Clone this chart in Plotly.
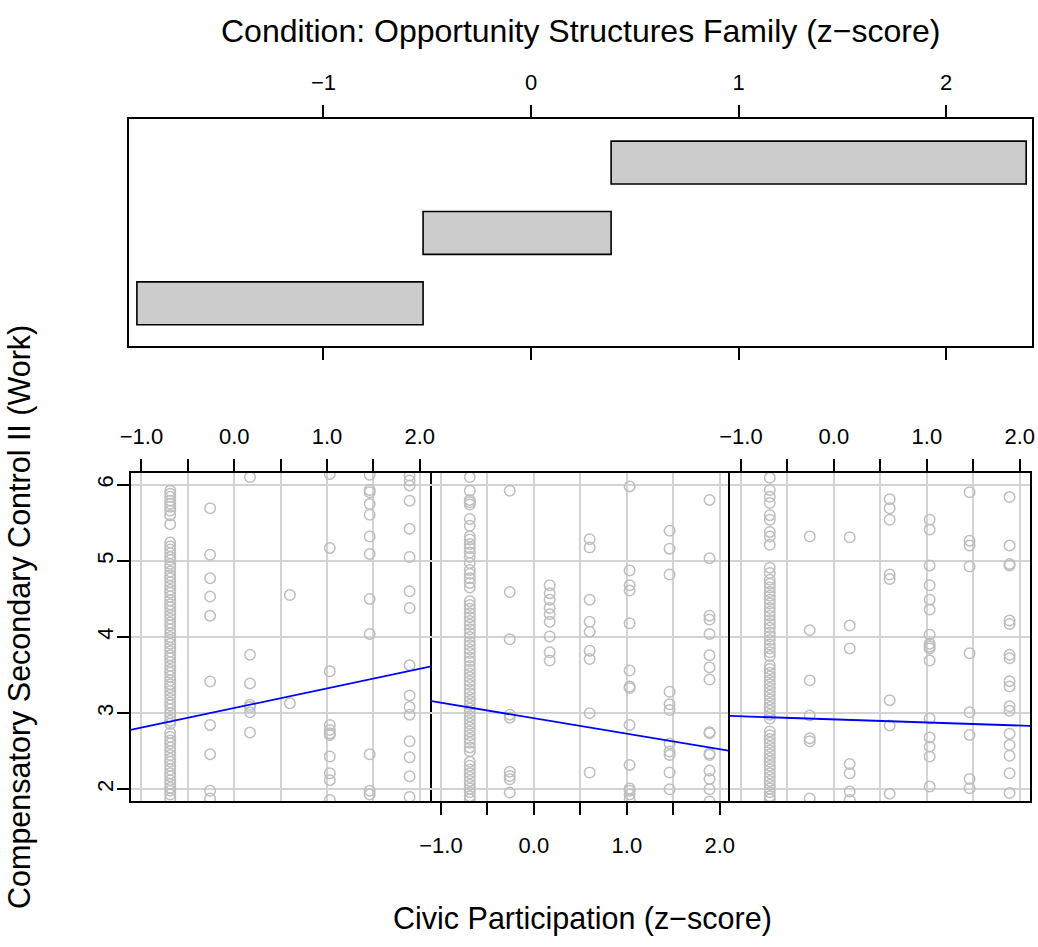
import plotly.graph_objects as go

W, H = 1038, 947

# Conditioning intervals of Opportunity Structures Family (z-score)
given_lo = [-1.899, -0.52, 0.386]
given_hi = [-0.52, 0.386, 2.386]
given_row = [1, 2, 3]

# Civic Participation levels (z-score), shared by every panel
civic_levels = [-0.69, -0.26, 0.17, 0.60, 1.03, 1.46, 1.89]

# Compensatory Secondary Control II (Work), one list per civic level
panel1_y = [
    [5.92, 5.88, 5.84, 5.79, 5.75, 5.71, 5.66, 5.60, 5.48,
     5.24, 5.19, 5.15, 5.10, 5.05, 5.01, 4.96, 4.92, 4.86, 4.81, 4.77, 4.72,
     4.67, 4.62, 4.58, 4.53, 4.48, 4.43, 4.39, 4.34, 4.29, 4.24, 4.19, 4.15,
     4.10, 4.05, 4.00, 3.96, 3.91, 3.86, 3.81, 3.76, 3.72, 3.67, 3.62, 3.57,
     3.53, 3.48, 3.43, 3.38, 3.34, 3.29, 3.24, 3.19, 3.14, 3.10, 3.05, 3.00,
     2.95, 2.90, 2.86, 2.74, 2.69, 2.64, 2.60, 2.55, 2.50, 2.45, 2.40, 2.36,
     2.31, 2.26, 2.21, 2.17, 2.12, 2.07, 2.02, 1.98, 1.93, 1.88],
    [5.69, 5.08, 4.77, 4.53, 4.28, 3.415, 2.845, 2.46, 1.98, 1.88],
    [6.10, 3.765, 3.39, 3.11, 3.08, 3.01, 2.745],
    [4.55, 3.13],
    [6.14, 5.17, 3.55, 2.845, 2.78, 2.736, 2.714, 2.43, 2.21, 2.12, 1.86],
    [6.13, 5.93, 5.90, 5.745, 5.605, 5.32, 5.09, 4.50, 4.04, 2.46, 1.98, 1.93],
    [6.12, 6.056, 5.99, 5.79, 5.42, 5.05, 4.60, 4.38, 3.63, 3.23, 3.08, 2.98,
     2.63, 2.42, 2.17, 1.90],
]

panel2_y = [
    [6.10, 5.92, 5.80, 5.77, 5.74, 5.55, 5.46, 5.32, 5.28, 5.22, 5.17, 5.11,
     5.05, 4.97, 4.88, 4.83, 4.77, 4.71, 4.65, 4.47, 4.42, 4.37, 4.31, 4.26,
     4.21, 4.16, 4.10, 4.05, 4.00, 3.94, 3.89, 3.84, 3.79, 3.73, 3.68, 3.62,
     3.57, 3.52, 3.47, 3.42, 3.37, 3.31, 3.26, 3.21, 3.16, 3.11, 3.06, 3.01,
     2.96, 2.91, 2.86, 2.81, 2.76, 2.71, 2.66, 2.61, 2.55, 2.50, 2.36, 2.31,
     2.26, 2.21, 2.16, 2.11, 2.06, 2.01, 1.96, 1.91, 1.87],
    [5.92, 4.59, 3.97, 2.98, 2.94, 2.23, 2.175, 2.13, 1.956],
    [4.68, 4.575, 4.49, 4.38, 4.30, 4.20, 4.006, 3.80, 3.69],
    [5.285, 5.175, 4.49, 4.20, 4.07, 3.82, 3.71, 3.00, 2.22],
    [5.977, 4.873, 4.68, 4.61, 4.18, 3.56, 3.35, 3.33, 2.845, 2.32, 2.01,
     1.98, 1.93, 1.87],
    [5.395, 5.16, 4.82, 3.28, 3.117, 3.04, 2.60, 2.495, 2.45, 2.22, 2.00],
    [5.80, 5.035, 4.28, 4.23, 4.04, 3.76, 3.60, 3.44, 2.75, 2.736, 2.47,
     2.45, 2.245, 2.136, 2.00, 1.84],
]

panel3_y = [
    [6.09, 5.93, 5.84, 5.76, 5.60, 5.54, 5.38, 5.32, 5.21,
     4.91, 4.84, 4.75, 4.70, 4.65, 4.59, 4.54, 4.49, 4.44, 4.38, 4.33, 4.28,
     4.22, 4.17, 4.12, 4.06, 4.01, 3.96, 3.90, 3.85, 3.80, 3.75,
     3.63, 3.58, 3.53, 3.48, 3.43, 3.38, 3.33, 3.28, 3.23, 3.18, 3.13, 3.08,
     3.03, 2.98, 2.93, 2.76, 2.71, 2.66, 2.61, 2.56, 2.51, 2.46, 2.41, 2.36,
     2.31, 2.26, 2.21, 2.16, 2.11, 2.06, 2.01, 1.96, 1.91, 1.87],
    [5.32, 4.09, 3.43, 2.97, 2.67, 2.63, 1.88],
    [5.31, 4.15, 3.85, 2.333, 2.21, 1.97, 1.86],
    [5.81, 5.69, 5.54, 4.82, 4.76, 3.17, 2.837, 1.94],
    [5.54, 5.41, 4.94, 4.68, 4.49, 4.36, 4.03, 3.91, 3.875, 3.85, 3.69, 2.93,
     2.68, 2.56, 2.43, 2.035],
    [5.90, 5.265, 5.20, 4.926, 3.787, 3.01, 2.714, 2.136, 2.013],
    [5.837, 5.20, 4.96, 4.94, 4.216, 4.17, 3.765, 3.72, 3.42, 3.35, 3.09,
     3.03, 2.73, 2.58, 2.44, 2.21, 1.95],
]

# Least-squares fits per panel
fit_intercept = [3.067, 2.9325, 2.918]
fit_slope = [0.2577, -0.2035, -0.0406]

x_ticks = [-1.0, -0.5, 0.0, 0.5, 1.0, 1.5, 2.0]
x_ticktext = ["\u22121.0", "", "0.0", "", "1.0", "", "2.0"]
y_ticks = [2, 3, 4, 5, 6]
y_ticktext = ["2", "3", "4", "5", "6"]
given_ticks = [-1, 0, 1, 2]
given_ticktext = ["\u22121", "0", "1", "2"]

X_RANGE = [-1.118, 2.11]
Y_RANGE = [1.846, 6.16]

FONT = "Liberation Sans, Arial, Helvetica, sans-serif"
GRAY_PT = "#BEBEBE"
GRID = "#D3D3D3"
LW = 1.8


def px_x(p):
    return p / W


def px_y(p):
    return 1 - p / H


fig = go.Figure()

# Conditioning bars
fig.add_trace(go.Bar(
    orientation="h", y=given_row,
    x=[hi - lo for lo, hi in zip(given_lo, given_hi)], base=given_lo,
    width=0.61, marker=dict(color="#CCCCCC", line=dict(color="black", width=1.6)),
    xaxis="x", yaxis="y", showlegend=False, hoverinfo="skip",
))

panels = [panel1_y, panel2_y, panel3_y]
for i, pdata in enumerate(panels):
    ax = str(i + 2)
    xs, ys = [], []
    for lvl, col in zip(civic_levels, pdata):
        xs.extend([lvl] * len(col))
        ys.extend(col)
    fig.add_trace(go.Scatter(
        x=xs, y=ys, mode="markers", xaxis="x" + ax, yaxis="y" + ax,
        marker=dict(symbol="circle-open", size=10.5, color=GRAY_PT,
                    line=dict(width=1.5, color=GRAY_PT)),
        showlegend=False, hoverinfo="skip",
    ))
    fx = X_RANGE
    fy = [fit_intercept[i] + fit_slope[i] * v for v in fx]
    fig.add_trace(go.Scatter(
        x=fx, y=fy, mode="lines", xaxis="x" + ax, yaxis="y" + ax,
        line=dict(color="#0000FF", width=1.8), showlegend=False,
        hoverinfo="skip",
    ))

tickfont = dict(family=FONT, size=22, color="black")

layout = dict(
    width=W, height=H, margin=dict(l=0, r=0, t=0, b=0, autoexpand=False),
    paper_bgcolor="white", plot_bgcolor="white", font=dict(family=FONT),
    barmode="overlay",
    xaxis=dict(
        domain=[px_x(129), px_x(1032)], range=[-1.937, 2.414], side="top",
        tickvals=given_ticks, ticktext=given_ticktext, tickfont=tickfont,
        ticks="outside", ticklen=12, tickwidth=LW, tickcolor="black",
        showline=True, linecolor="black", linewidth=LW, mirror="ticks",
        showgrid=False, zeroline=False, ticklabelstandoff=6, automargin=False,
    ),
    yaxis=dict(
        domain=[px_y(346), px_y(119)], range=[0.393, 3.62],
        showticklabels=False, ticks="", showgrid=False, zeroline=False,
        showline=True, linecolor="black", linewidth=LW, mirror=True,
        automargin=False,
    ),
)

panel_px = [(130.5, 430), (430, 730), (730, 1030)]
for i, (l, r) in enumerate(panel_px):
    ax = str(i + 2)
    side = "bottom" if i == 1 else "top"
    layout["xaxis" + ax] = dict(
        domain=[px_x(l), px_x(r)], range=X_RANGE, side=side,
        anchor="y" + ax,
        tickvals=x_ticks, ticktext=x_ticktext, tickfont=tickfont,
        ticks="outside", ticklen=12, tickwidth=LW, tickcolor="black",
        showline=True, linecolor="black", linewidth=LW, mirror=True,
        showgrid=True, gridcolor=GRID, gridwidth=1.5, zeroline=False,
        ticklabelstandoff=(12 if side == "bottom" else 6), automargin=False,
    )
    # the middle panel borrows its side borders from its neighbours
    ydef = dict(
        domain=[px_y(801), px_y(472.5)], range=Y_RANGE, anchor="x" + ax,
        tickvals=y_ticks, ticktext=y_ticktext,
        showline=(i != 1), linecolor="black", linewidth=LW, mirror=True,
        showgrid=True, gridcolor=GRID, gridwidth=1.5, zeroline=False,
        automargin=False,
    )
    if i == 0:
        ydef.update(ticks="outside", ticklen=12, tickwidth=LW,
                    tickcolor="black", tickfont=tickfont, tickangle=-90,
                    ticklabelstandoff=-5)
    else:
        ydef.update(ticks="", showticklabels=False)
    layout["yaxis" + ax] = ydef

fig.update_layout(**layout)

fig.add_annotation(
    text="Condition: Opportunity Structures Family (z\u2212score)",
    xref="paper", yref="paper", x=px_x(580), y=px_y(31),
    xanchor="center", yanchor="middle", showarrow=False,
    font=dict(family=FONT, size=32, color="black"),
)
fig.add_annotation(
    text="Civic Participation (z\u2212score)",
    xref="paper", yref="paper", x=px_x(582), y=px_y(918),
    xanchor="center", yanchor="middle", showarrow=False,
    font=dict(family=FONT, size=30.5, color="black"),
)
fig.add_annotation(
    text="Compensatory Secondary Control II (Work)",
    xref="paper", yref="paper", x=px_x(19), y=px_y(617),
    xanchor="center", yanchor="middle", showarrow=False,
    font=dict(family=FONT, size=30.5, color="black"),
    textangle=-90,
)

fig.write_html("out.html")
